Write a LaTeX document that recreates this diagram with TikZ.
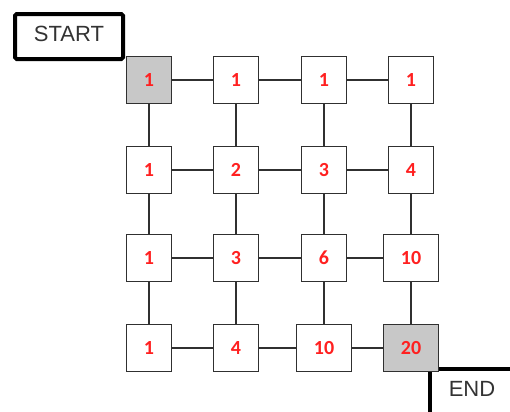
\documentclass[tikz,border=0pt]{standalone}
\usepackage{fontspec}
\setmainfont{Liberation Sans}
\newfontfamily\cellfont{Carlito}
\usepackage{xcolor}
\usetikzlibrary{positioning}
\definecolor{cellred}{RGB}{255,32,32}
\definecolor{linegray}{RGB}{48,48,48}
\definecolor{pathgray}{RGB}{200,200,200}

\begin{document}
\begin{tikzpicture}[x=0.5pt,y=-0.5pt,
    cell/.style={draw=linegray,line width=0.8pt,fill=white,minimum width=22.5pt,
      minimum height=23.5pt,inner sep=0pt,text=cellred,
      font=\cellfont\bfseries\fontsize{10}{12}\selectfont},
    wide/.style={minimum width=27.5pt},
    onpath/.style={fill=pathgray},
    goal/.style={wide,onpath},
    plain/.style={},
    frame/.style={draw=black,line width=2pt,rounded corners=0.8pt},
    link/.style={draw=linegray,line width=0.8pt}]
  \useasboundingbox (0,0) rectangle (510,412);

  % end marker, partly behind the last cell
  \draw[line width=2pt] (430,412) -- (430,369) -- (510,369);

  \node[frame,minimum width=54pt,minimum height=22.5pt,inner sep=0pt,
        font=\fontsize{11}{13}\selectfont,text=black!80] (start) at (69,36.5)
        {\raisebox{2.7pt}{START}};
  \node[font=\fontsize{11}{13}\selectfont,text=black!80] (end) at (472,389) {END};

  % grid of counts
  \foreach \r/\y in {1/80,2/170,3/258,4/348}{
    \foreach \c/\x in {1/149,2/236,3/324,4/411}{
      \coordinate (p\r\c) at (\x,\y);}}
  \foreach \r/\c/\v/\opt in {1/1/1/onpath,1/2/1/plain,1/3/1/plain,1/4/1/plain,
                             2/1/1/plain,2/2/2/plain,2/3/3/plain,2/4/4/plain,
                             3/1/1/plain,3/2/3/plain,3/3/6/plain,3/4/10/wide,
                             4/1/1/plain,4/2/4/plain,4/3/10/wide,4/4/20/goal}{
    \node[cell,\opt] (c\r\c) at (p\r\c) {\v};}

  % links
  \foreach \r in {1,...,4}{
    \foreach \c/\n in {1/2,2/3,3/4}{
      \draw[link] (c\r\c) -- (c\r\n);
      \draw[link] (c\c\r) -- (c\n\r);}}
\end{tikzpicture}
\end{document}
